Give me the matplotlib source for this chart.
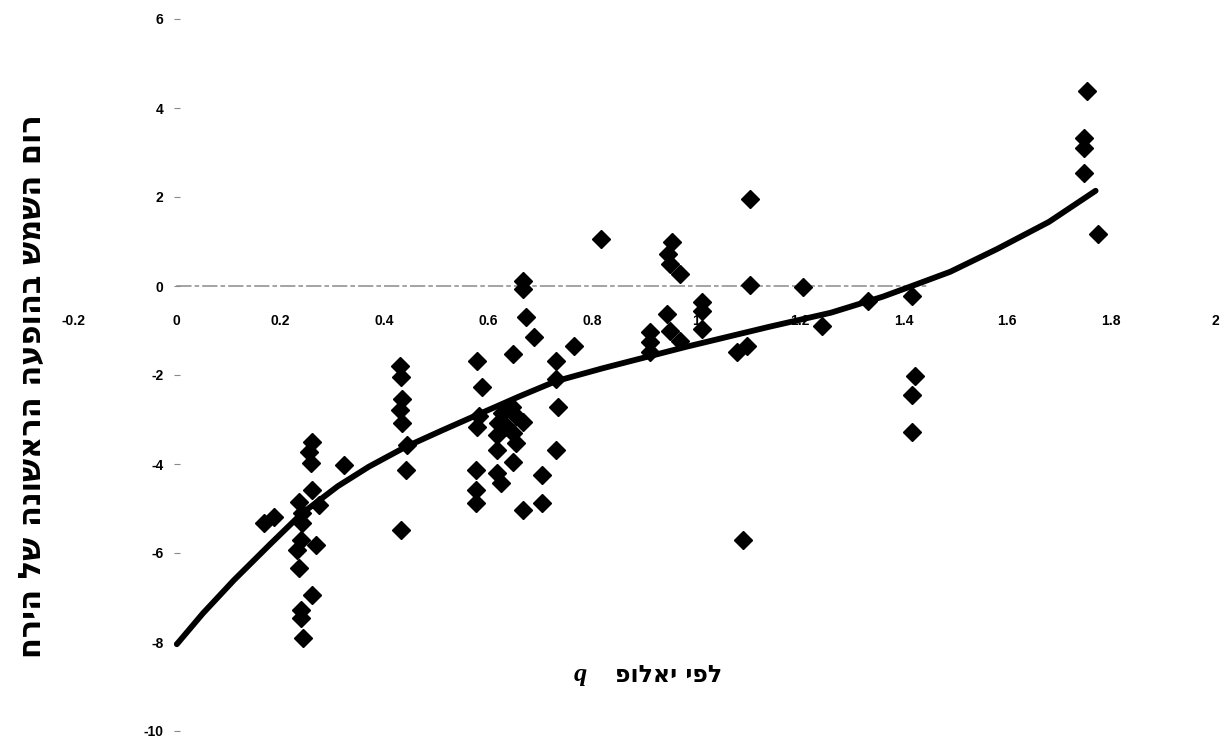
import numpy as np
import matplotlib
matplotlib.use('Agg')
import matplotlib.pyplot as plt

# observations (q of Yallop vs. sun altitude at first moon sighting)
q_obs = [0.168, 0.187, 0.261, 0.255, 0.258, 0.261, 0.236, 0.274, 0.242, 0.242,
         0.240, 0.268, 0.232, 0.236, 0.261, 0.240, 0.240, 0.244, 0.322,
         0.429, 0.432, 0.434, 0.429, 0.434, 0.444, 0.442, 0.432,
         0.579, 0.587, 0.583, 0.579, 0.577, 0.577, 0.577,
         0.647, 0.666, 0.666, 0.673, 0.689, 0.645, 0.627, 0.654, 0.666, 0.618,
         0.637, 0.616, 0.647, 0.654, 0.616, 0.647, 0.616, 0.625, 0.666, 0.703, 0.703,
         0.731, 0.731, 0.734, 0.731, 0.766, 0.818,
         0.954, 0.946, 0.950, 0.969, 0.944, 0.911, 0.911, 0.911, 0.950, 0.969,
         1.012, 1.012, 1.012, 1.104, 1.104, 1.098, 1.079, 1.091,
         1.207, 1.243, 1.332, 1.417, 1.423, 1.417, 1.417,
         1.754, 1.747, 1.747, 1.747, 1.774]
alt_obs = [-5.33, -5.2, -3.5, -3.72, -3.97, -4.58, -4.85, -4.92, -5.1, -5.33,
           -5.71, -5.82, -5.94, -6.34, -6.95, -7.29, -7.45, -7.92, -4.02,
           -1.8, -2.05, -2.55, -2.78, -3.07, -3.57, -4.13, -5.48,
           -1.69, -2.28, -2.93, -3.16, -4.13, -4.58, -4.88,
           -1.53, 0.11, -0.07, -0.7, -1.15, -2.71, -2.85, -2.93, -3.05, -3.07,
           -3.16, -3.34, -3.3, -3.52, -3.68, -3.95, -4.2, -4.42, -5.03, -4.24, -4.88,
           -1.69, -2.1, -2.73, -3.68, -1.35, 1.06,
           0.99, 0.72, 0.5, 0.27, -0.63, -1.04, -1.26, -1.49, -1.02, -1.24,
           -0.36, -0.56, -0.97, 1.96, 0.02, -1.35, -1.49, -5.71,
           -0.03, -0.9, -0.33, -0.22, -2.03, -2.44, -3.27,
           4.38, 3.32, 3.09, 2.53, 1.17]

# trend curve
q_fit = [0, 0.05, 0.11, 0.18, 0.24, 0.31, 0.37, 0.44, 0.51, 0.58, 0.66, 0.73,
         0.82, 0.98, 1.14, 1.26, 1.36, 1.43, 1.49, 1.58, 1.68, 1.77]
alt_fit = [-8.05, -7.36, -6.61, -5.8, -5.12, -4.5, -4.06, -3.62, -3.25, -2.89, -2.48, -2.14,
           -1.85, -1.37, -0.92, -0.6, -0.24, 0.06, 0.32, 0.83, 1.44, 2.14]

xticks = [-0.2, 0, 0.2, 0.4, 0.6, 0.8, 1.0, 1.2, 1.4, 1.6, 1.8, 2.0]
xticklabels = ['-0.2', '0', '0.2', '0.4', '0.6', '0.8', '1', '1.2', '1.4', '1.6', '1.8', '2']
yticks = [6, 4, 2, 0, -2, -4, -6, -8, -10]
yticklabels = ['6', '4', '2', '0', '-2', '-4', '-6', '-8', '-10']

ylabel = 'רום השמש בהופעה הראשונה של הירח'
xlabel = 'לפי יאלופ'

W, H = 1223, 740
fig = plt.figure(figsize=(W / 100, H / 100), dpi=100)
ax = fig.add_axes([73 / W, 1 - 731 / H, (1215 - 73) / W, (731 - 19) / H])

ax.plot(q_obs, alt_obs, linestyle='none', marker='D', ms=9.5, color='black', zorder=3)
ax.plot(q_fit, alt_fit, color='black', lw=4.2, solid_capstyle='round',
        solid_joinstyle='round', zorder=4)

ax.set_xlim(-0.2, 2)
ax.set_ylim(-10, 6)

ax.spines['top'].set_visible(False)
ax.spines['right'].set_visible(False)
ax.spines['left'].set_position(('data', 0))
ax.spines['left'].set_visible(False)
ax.spines['bottom'].set_position(('data', 0))
ax.spines['bottom'].set_color('#8a8a8a')
ax.spines['bottom'].set_linewidth(1.1)
ax.spines['bottom'].set_linestyle((0, (9, 3, 2, 3)))
ax.spines['bottom'].set_bounds(0.0, 1.45)

ax.set_xticks(xticks)
ax.set_xticklabels(xticklabels)
ax.set_yticks(yticks)
ax.set_yticklabels(yticklabels)
ax.tick_params(axis='x', length=0, pad=20, labelsize=10)
ax.tick_params(axis='y', direction='inout', length=5, width=0.8, color='#888888',
               pad=7, labelsize=10)
for lab in ax.get_xticklabels() + ax.get_yticklabels():
    lab.set_fontfamily('Liberation Sans')
    lab.set_fontweight('bold')

# Hebrew is drawn left to right by matplotlib, so reverse it for display
fig.text(32 / W, 1 - 386 / H, ylabel[::-1], rotation=90, ha='center', va='center',
         fontsize=22, fontweight='bold', family='DejaVu Sans')
fig.text(669 / W, 1 - 675 / H, xlabel[::-1], ha='center', va='center',
         fontsize=17, fontweight='bold', family='DejaVu Sans')
fig.text(580 / W, 1 - 675 / H, 'q', ha='center', va='center', fontsize=19,
         fontweight='bold', fontstyle='italic', family='Liberation Serif')

fig.savefig('out.png', dpi=100)
